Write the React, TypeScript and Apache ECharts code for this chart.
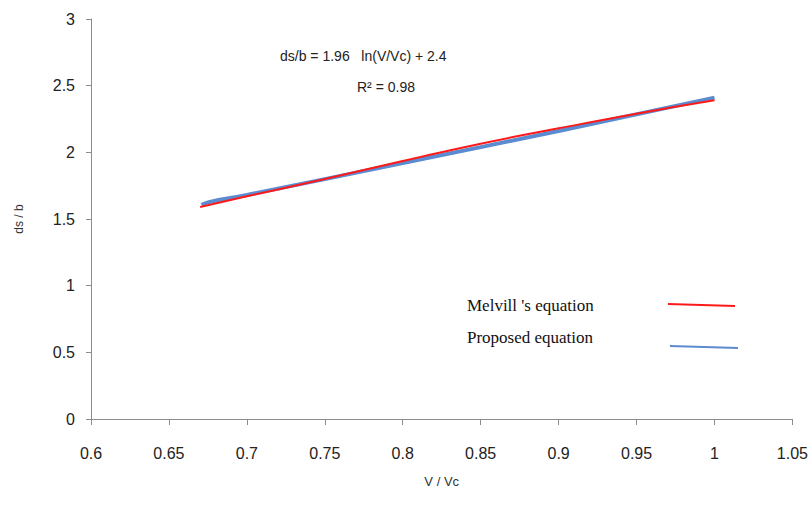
import React, { useEffect, useRef } from "react";
import * as echarts from "echarts";

const xTicks = { min: 0.6, max: 1.05, interval: 0.05 };
const yTicks = { min: 0, max: 3, interval: 0.5 };

const melvillX = [0.67, 0.7, 0.75, 0.8, 0.85, 0.9, 0.95, 1.0];
const melvillY = [1.59, 1.67, 1.8, 1.935, 2.065, 2.18, 2.29, 2.39];

const proposedX = [0.671, 0.675, 0.7, 0.8, 0.9, 1.0];
const proposedY = [1.605, 1.625, 1.68, 1.92, 2.16, 2.41];

const seriesNames = ["Melvill 's equation", "Proposed equation"];
const equationText = "ds/b = 1.96   ln(V/Vc) + 2.4";
const r2Text = "R² = 0.98";

export default function App() {
  const ref = useRef<HTMLDivElement>(null);
  useEffect(() => {
    if (!ref.current) return;
    const chart = echarts.init(ref.current, undefined, { renderer: "svg" });
    const serif = "Liberation Serif";
    chart.setOption({
      animation: false,
      backgroundColor: "#ffffff",
      grid: { left: 91, right: 14, top: 19, bottom: 102 },
      xAxis: {
        type: "value",
        min: xTicks.min,
        max: xTicks.max,
        interval: xTicks.interval,
        name: "V / Vc",
        nameLocation: "middle",
        nameGap: 56,
        nameTextStyle: { fontFamily: "Liberation Sans", fontSize: 13, color: "#333" },
        axisLine: { lineStyle: { color: "#8c8c8c", width: 1 } },
        axisTick: { show: true, length: 6, lineStyle: { color: "#8c8c8c" } },
        splitLine: { show: false },
        axisLabel: {
          margin: 26,
          fontFamily: "Liberation Sans",
          fontSize: 16,
          color: "#222",
          formatter: (v: number) => String(Math.round(v * 100) / 100),
        },
      },
      yAxis: {
        type: "value",
        min: yTicks.min,
        max: yTicks.max,
        interval: yTicks.interval,
        name: "ds / b",
        nameLocation: "middle",
        nameGap: 66,
        nameTextStyle: { fontFamily: "Liberation Sans", fontSize: 12, color: "#333" },
        axisLine: { show: true, lineStyle: { color: "#8c8c8c", width: 1 } },
        axisTick: { show: true, length: 5, lineStyle: { color: "#8c8c8c" } },
        splitLine: { show: false },
        axisLabel: {
          margin: 16,
          fontFamily: "Liberation Sans",
          fontSize: 16,
          color: "#222",
        },
      },
      series: [
        {
          name: seriesNames[1],
          type: "line",
          data: proposedX.map((x, i) => [x, proposedY[i]]),
          showSymbol: false,
          smooth: true,
          lineStyle: { color: "#5b8bd0", width: 4 },
        },
        {
          name: seriesNames[0],
          type: "line",
          data: melvillX.map((x, i) => [x, melvillY[i]]),
          showSymbol: false,
          smooth: true,
          lineStyle: { color: "#ff1a1a", width: 2 },
        },
      ],
      graphic: [
        {
          type: "text",
          left: 280,
          top: 49,
          style: { text: equationText, fontFamily: "Liberation Sans", fontSize: 14, fill: "#222" },
        },
        {
          type: "text",
          left: 357,
          top: 80,
          style: { text: r2Text, fontFamily: "Liberation Sans", fontSize: 14, fill: "#222" },
        },
        {
          type: "text",
          left: 467,
          top: 297,
          style: { text: seriesNames[0], fontFamily: serif, fontSize: 17, fill: "#111" },
        },
        {
          type: "text",
          left: 467,
          top: 329,
          style: { text: seriesNames[1], fontFamily: serif, fontSize: 17, fill: "#111" },
        },
        {
          type: "line",
          shape: { x1: 668, y1: 304, x2: 735, y2: 306 },
          style: { stroke: "#ff1a1a", lineWidth: 2 },
        },
        {
          type: "line",
          shape: { x1: 670, y1: 346, x2: 738, y2: 348 },
          style: { stroke: "#5b8bd0", lineWidth: 2 },
        },
      ],
    });
    return () => chart.dispose();
  }, []);
  return (
    <div
      ref={ref}
      style={{ position: "absolute", left: 0, top: 0, width: 811, height: 521 }}
    />
  );
}
